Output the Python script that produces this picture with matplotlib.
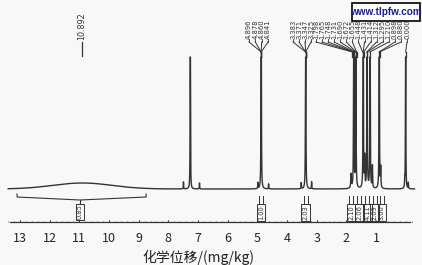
import numpy as np
import matplotlib.pyplot as plt
from matplotlib.patches import Rectangle

plt.rcParams['font.family'] = ['Noto Sans CJK SC', 'DejaVu Sans']

# chemical shift axis
tick_ppm = [13, 12, 11, 10, 9, 8, 7, 6, 5, 4, 3, 2, 1]
xlabel = "化学位移/(mg/kg)"

# spectrum peaks (ppm, height, half width)
peak_ppm = [7.26, 7.49, 6.95, 4.87, 4.98, 4.62, 3.37, 3.52, 3.17,
            1.84, 1.75, 1.68, 1.43, 1.38, 1.30, 1.20, 1.12, 0.89, 0.84, 0.03, 0.00, -0.09]
peak_h = [400, 7, 6, 400, 6, 5, 400, 6, 7,
          14, 400, 400, 400, 30, 400, 400, 22, 400, 20, 7, 400, 6]
peak_w = [0.004, 0.006, 0.006, 0.005, 0.006, 0.006, 0.005, 0.006, 0.006,
          0.012, 0.005, 0.005, 0.005, 0.008, 0.005, 0.005, 0.008, 0.005, 0.008, 0.006, 0.004, 0.006]
hump_center, hump_h, hump_sigma = 10.9, 6, 1.0

# peak labels
labels_a = ["4.896", "4.878", "4.860", "4.841"]
labels_b = ["3.383", "3.371", "3.347", "3.325"]
labels_c = ["1.798", "1.765", "1.748", "1.731", "1.690", "1.672", "1.655", "1.448",
            "1.431", "1.414", "1.312", "1.295", "1.210", "0.898", "0.880", "0.000"]
label_broad = "10.892"

# integrals
int_ppm = [4.87, 3.37, 1.84, 1.56, 1.29, 1.04, 0.80]
int_val = ["1.00", "2.03", "2.10", "2.06", "4.11", "2.09", "3.00"]
broad_range = (13.1, 8.75)
broad_val = "0.85"

# pixel helpers (figure is 422 x 265 px)
def px2ppm(x):
    return 5.8 - (x - 233.6) / 29.66

def yy(p):
    return 189 - p

fig = plt.figure(figsize=(4.22, 2.65), dpi=100, facecolor='#f8f8f8')
ax = fig.add_axes([0, 0, 1, 1])
ax.set_facecolor('#f8f8f8')
ax.set_xlim(px2ppm(0), px2ppm(422))
ax.set_ylim(yy(265), yy(0))
ax.axis('off')

col = '#333333'

# spectrum
ppm = np.linspace(13.4, -0.3, 12000)
inten = hump_h * np.exp(-0.5 * ((ppm - hump_center) / hump_sigma) ** 2)
for p, h, w in zip(peak_ppm, peak_h, peak_w):
    inten += h * w ** 2 / ((ppm - p) ** 2 + w ** 2)
inten = np.minimum(inten, 132)
ax.plot(ppm, inten, color=col, lw=1.0)

# peak labels with fan leaders
def fan(labels, x0, x1, peak_x=None):
    xs = np.linspace(px2ppm(x0), px2ppm(x1), len(labels))
    for lx, lab in zip(xs, labels):
        target = float(lab) if peak_x is None else peak_x
        ax.text(lx, yy(39), lab, rotation=90, ha='center', va='bottom',
                fontsize=4.9, color=col, family='DejaVu Sans')
        ax.plot([lx, lx], [yy(39), yy(42)], color=col, lw=0.6)
        ax.plot([lx, target], [yy(42), yy(52)], color=col, lw=0.7)
        ax.plot([target, target], [yy(52), yy(57)], color=col, lw=0.9)

fan(labels_a, 249, 268, peak_x=4.87)
fan(labels_b, 293, 311, peak_x=3.37)
fan(labels_c, 316, 407)

bx = px2ppm(82)
ax.text(bx, yy(40), label_broad, rotation=90, ha='center', va='bottom',
        fontsize=5.8, color=col, family='DejaVu Sans')
ax.plot([bx, bx], [yy(42), yy(56)], color=col, lw=0.9)

# integrals
hw = 4.3 / 29.66
for p, v in zip(int_ppm, int_val):
    ax.plot([p + 0.07, p + 0.07], [yy(196), yy(203)], color=col, lw=0.7)
    ax.plot([p - 0.07, p - 0.07], [yy(196), yy(203)], color=col, lw=0.7)
    ax.add_patch(Rectangle((p - hw, yy(221)), 2 * hw, 17, fill=False, ec=col, lw=0.7))
    ax.text(p, yy(212.5), v, rotation=90, ha='center', va='center',
            fontsize=4.8, color=col, family='DejaVu Sans')

l, r = broad_range
c = px2ppm(80)
ax.plot([l, l, c, r, r], [yy(194), yy(197), yy(200), yy(197), yy(194)], color=col, lw=0.8)
ax.plot([c, c], [yy(200), yy(204)], color=col, lw=0.8)
ax.add_patch(Rectangle((c - hw, yy(220)), 2 * hw, 16, fill=False, ec=col, lw=0.7))
ax.text(c, yy(212), broad_val, rotation=90, ha='center', va='center',
        fontsize=4.8, color=col, family='DejaVu Sans')

# chemical shift axis
ax.plot([px2ppm(10), px2ppm(410)], [yy(222), yy(222)], color=col, lw=0.9)
minor = np.arange(13.4, -0.3, -0.2)
ax.vlines(minor, yy(222), yy(220.5), color=col, lw=0.5)
ax.vlines(tick_ppm, yy(222), yy(219.5), color=col, lw=0.8)
for t in tick_ppm:
    ax.text(t, yy(238), str(t), ha='center', va='center', fontsize=9, color='#222222')
ax.text(px2ppm(198), yy(257), xlabel, ha='center', va='center', fontsize=10, color='#222222')

# watermark
fig.patches.append(Rectangle((352 / 422, 1 - 21 / 265), 68 / 422, 18 / 265,
                             transform=fig.transFigure, fc='white', ec='black', lw=1.2))
fig.text(386 / 422, 1 - 12 / 265, "www.tlpfw.com", ha='center', va='center',
         fontsize=7.2, fontweight='bold', color='#1b1b8f', family='Liberation Sans')

fig.savefig('out.png', dpi=100, facecolor=fig.get_facecolor())
